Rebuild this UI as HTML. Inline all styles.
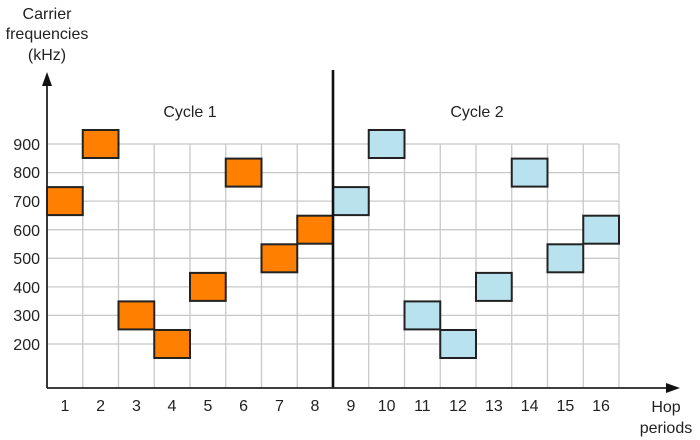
<!DOCTYPE html>
<html><head><style>body{margin:0;background:#fff}svg{display:block}</style></head><body>
<svg width="700" height="440" xmlns="http://www.w3.org/2000/svg" font-family="Liberation Sans, DejaVu Sans, sans-serif" fill="#222">
<g stroke="#c8c8c8" stroke-width="1.3">
<line x1="47" y1="144" x2="619" y2="144"/><line x1="47" y1="172.6" x2="619" y2="172.6"/><line x1="47" y1="201.1" x2="619" y2="201.1"/><line x1="47" y1="229.7" x2="619" y2="229.7"/><line x1="47" y1="258.3" x2="619" y2="258.3"/><line x1="47" y1="286.9" x2="619" y2="286.9"/><line x1="47" y1="315.4" x2="619" y2="315.4"/><line x1="47" y1="344" x2="619" y2="344"/>
<line x1="82.75" y1="144" x2="82.75" y2="388"/><line x1="118.5" y1="144" x2="118.5" y2="388"/><line x1="154.25" y1="144" x2="154.25" y2="388"/><line x1="190" y1="144" x2="190" y2="388"/><line x1="225.75" y1="144" x2="225.75" y2="388"/><line x1="261.5" y1="144" x2="261.5" y2="388"/><line x1="297.25" y1="144" x2="297.25" y2="388"/><line x1="368.75" y1="144" x2="368.75" y2="388"/><line x1="404.5" y1="144" x2="404.5" y2="388"/><line x1="440.25" y1="144" x2="440.25" y2="388"/><line x1="476" y1="144" x2="476" y2="388"/><line x1="511.75" y1="144" x2="511.75" y2="388"/><line x1="547.5" y1="144" x2="547.5" y2="388"/><line x1="583.25" y1="144" x2="583.25" y2="388"/><line x1="619" y1="144" x2="619" y2="388"/>
</g>
<g stroke="#222" stroke-width="2">
<rect x="47" y="187.1" width="35.75" height="28" fill="#ff7f00"/>
<rect x="82.75" y="130" width="35.75" height="28" fill="#ff7f00"/>
<rect x="118.5" y="301.4" width="35.75" height="28" fill="#ff7f00"/>
<rect x="154.25" y="330" width="35.75" height="28" fill="#ff7f00"/>
<rect x="190" y="272.9" width="35.75" height="28" fill="#ff7f00"/>
<rect x="225.75" y="158.6" width="35.75" height="28" fill="#ff7f00"/>
<rect x="261.5" y="244.3" width="35.75" height="28" fill="#ff7f00"/>
<rect x="297.25" y="215.7" width="35.75" height="28" fill="#ff7f00"/>
<rect x="333" y="187.1" width="35.75" height="28" fill="#b7e2ee"/>
<rect x="368.75" y="130" width="35.75" height="28" fill="#b7e2ee"/>
<rect x="404.5" y="301.4" width="35.75" height="28" fill="#b7e2ee"/>
<rect x="440.25" y="330" width="35.75" height="28" fill="#b7e2ee"/>
<rect x="476" y="272.9" width="35.75" height="28" fill="#b7e2ee"/>
<rect x="511.75" y="158.6" width="35.75" height="28" fill="#b7e2ee"/>
<rect x="547.5" y="244.3" width="35.75" height="28" fill="#b7e2ee"/>
<rect x="583.25" y="215.7" width="35.75" height="28" fill="#b7e2ee"/>
</g>
<line x1="333" y1="70" x2="333" y2="388" stroke="#111" stroke-width="2.6"/>
<line x1="47" y1="388" x2="670" y2="388" stroke="#222" stroke-width="1.8"/>
<line x1="47" y1="388" x2="47" y2="82" stroke="#222" stroke-width="1.8"/>
<polygon points="47,72 42,86 52,86" fill="#111"/>
<polygon points="680,388 666,383 666,393" fill="#111"/>
<g font-size="16" text-anchor="end">
<text x="40" y="150">900</text><text x="40" y="178">800</text><text x="40" y="207">700</text><text x="40" y="236">600</text><text x="40" y="264">500</text><text x="40" y="293">400</text><text x="40" y="321">300</text><text x="40" y="350">200</text>
</g>
<g font-size="16" text-anchor="middle">
<text x="65" y="411">1</text><text x="100.6" y="411">2</text><text x="136.4" y="411">3</text><text x="172" y="411">4</text><text x="207.9" y="411">5</text><text x="243.6" y="411">6</text><text x="279.4" y="411">7</text><text x="315" y="411">8</text><text x="350.9" y="411">9</text><text x="386.6" y="411">10</text><text x="422.4" y="411">11</text><text x="458" y="411">12</text><text x="493.9" y="411">13</text><text x="529.6" y="411">14</text><text x="565.4" y="411">15</text><text x="601" y="411">16</text>
<text x="190" y="117">Cycle 1</text><text x="477" y="117">Cycle 2</text>
<text x="666" y="412">Hop</text><text x="666" y="433">periods</text>
<text x="47" y="19">Carrier</text><text x="47" y="39">frequencies</text><text x="47" y="60">(kHz)</text>
</g>
</svg>
</body></html>
